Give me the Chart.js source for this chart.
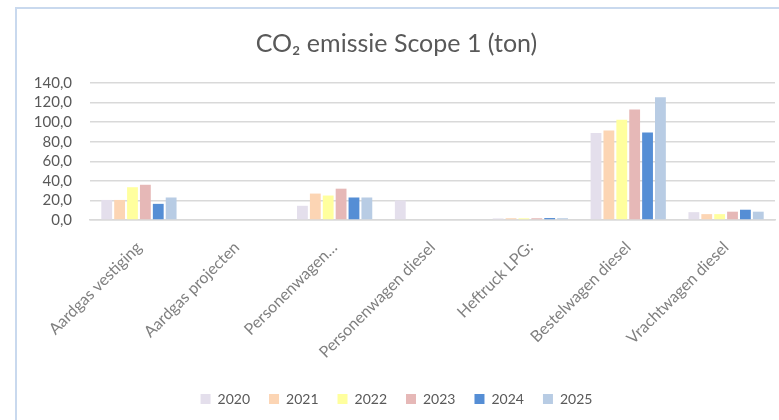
<!DOCTYPE html>
<html>
<head>
<meta charset="utf-8">
<script src="https://cdn.jsdelivr.net/npm/chart.js@4"></script>
<style>
  body { margin: 0; background: #fff; }
  #frame {
    position: absolute; left: 15px; top: 7px; width: 780px; height: 420px;
    border-left: 2px solid #C9D9EE; border-top: 2px solid #C9D9EE;
  }
  #wrap { position: absolute; left: 0; top: 0; width: 779px; height: 420px; }
</style>
</head>
<body>
<div id="frame"></div>
<div id="wrap"><canvas id="co2Chart"></canvas></div>
<script>
const categories = [
  "Aardgas vestiging",
  "Aardgas projecten",
  "Personenwagen…",
  "Personenwagen diesel",
  "Heftruck LPG:",
  "Bestelwagen diesel",
  "Vrachtwagen diesel",
];

const years = ["2020", "2021", "2022", "2023", "2024", "2025"];

const values2020 = [20.5, 0, 14.5, 20.0, 1.6, 89.0, 8.0];
const values2021 = [20.5, 0, 27.0, 0, 1.8, 91.5, 6.0];
const values2022 = [33.5, 0, 25.0, 0, 1.7, 102.5, 6.0];
const values2023 = [36.0, 0, 32.0, 0, 1.8, 113.0, 8.5];
const values2024 = [16.5, 0, 23.0, 0, 2.0, 89.5, 10.5];
const values2025 = [23.0, 0, 23.0, 0, 1.8, 125.5, 8.5];

const yTicks = [0, 20, 40, 60, 80, 100, 120, 140];

const colors = ["#E4DFEC", "#FCD5B4", "#FFFF9E", "#E6B8B7", "#558ED5", "#B8CCE4"];

const allValues = [values2020, values2021, values2022, values2023, values2024, values2025];

const ctx = document.getElementById("co2Chart").getContext("2d");

new Chart(ctx, {
  type: "bar",
  data: {
    labels: categories,
    datasets: years.map((year, i) => ({
      label: year,
      data: allValues[i],
      backgroundColor: colors[i],
      borderWidth: 0,
      barPercentage: 0.84,
      categoryPercentage: 0.79,
    })),
  },
  options: {
    responsive: true,
    maintainAspectRatio: false,
    animation: false,
    layout: { padding: { left: 18, right: 4, top: 0, bottom: 4 } },
    scales: {
      y: {
        min: 0,
        max: 140,
        afterFit: (scale) => { scale.width = 72; },
        afterBuildTicks: (scale) => {
          scale.ticks = yTicks.map((v) => ({ value: v }));
        },
        ticks: {
          autoSkip: false,
          color: "#595959",
          font: { family: "Lato", size: 15 },
          padding: 18,
          callback: (v) => v.toFixed(1).replace(".", ","),
        },
        grid: { color: "#D9D9D9", lineWidth: 1.5, drawTicks: false },
        border: { display: false },
      },
      x: {
        afterFit: (scale) => { scale.height = 153; },
        ticks: {
          color: "#7F7F7F",
          font: { family: "Lato", size: 16 },
          maxRotation: 45,
          minRotation: 45,
          autoSkip: false,
          padding: 10,
        },
        grid: { display: false },
        border: { color: "#D9D9D9", width: 1.5 },
      },
    },
    plugins: {
      title: {
        display: true,
        text: "CO₂ emissie Scope 1 (ton)",
        color: "#595959",
        font: { family: "Lato", size: 25, weight: "normal" },
        padding: { top: 29, bottom: 24 },
      },
      legend: {
        position: "bottom",
        labels: {
          color: "#595959",
          font: { family: "Lato", size: 14 },
          boxWidth: 10,
          boxHeight: 10,
          padding: 19,
        },
      },
      tooltip: { enabled: false },
    },
  },
});
</script>
</body>
</html>
